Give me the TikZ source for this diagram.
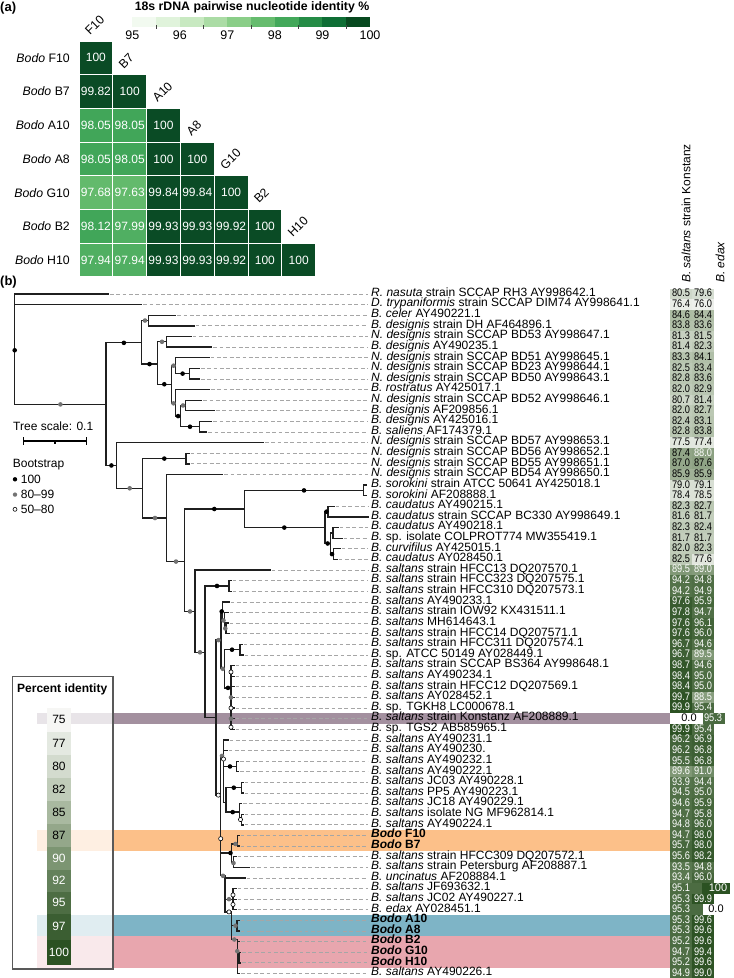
\documentclass[tikz,border=0pt]{standalone}
\usepackage{fontspec}
\setmainfont{Liberation Sans}
\usetikzlibrary{calc}

\newcommand{\fs}[1]{\fontsize{#1}{#1}\selectfont}

% heatmap bins (95 -> 100, steps of 0.5)
\definecolor{gb0}{HTML}{F2FAF0}
\definecolor{gb1}{HTML}{E0F3DB}
\definecolor{gb2}{HTML}{C8E9C1}
\definecolor{gb3}{HTML}{ABDCA5}
\definecolor{gb4}{HTML}{8ACE88}
\definecolor{gb5}{HTML}{66BC6E}
\definecolor{gb6}{HTML}{43A85A}
\definecolor{gb7}{HTML}{258C46}
\definecolor{gb8}{HTML}{0E6E35}
\definecolor{gb9}{HTML}{07491F}
\definecolor{hmA}{HTML}{63BA6C}
\definecolor{hmB}{HTML}{50AF62}
\definecolor{hmC}{HTML}{41A659}
\definecolor{hmD}{HTML}{0A4B25}
% percent identity scale
\definecolor{pid75}{HTML}{F6F6F4}
\definecolor{pid77}{HTML}{E4E9E1}
\definecolor{pid80}{HTML}{D3DBCE}
\definecolor{pid82}{HTML}{C0CCB9}
\definecolor{pid85}{HTML}{A9B9A0}
\definecolor{pid87}{HTML}{94A78A}
\definecolor{pid90}{HTML}{7C9572}
\definecolor{pid92}{HTML}{64815B}
\definecolor{pid95}{HTML}{4D6D43}
\definecolor{pid97}{HTML}{3B5E32}
\definecolor{pid100}{HTML}{2B5122}
% clade bands
\definecolor{bandKon}{HTML}{A3909F}
\definecolor{bandOr}{HTML}{FCC089}
\definecolor{bandBl}{HTML}{7EB4C6}
\definecolor{bandPk}{HTML}{E8A6AE}

% interpolate the identity colour -> pidc, text colour -> pidt
\newcommand{\pidseg}[3]{%
  \pgfmathtruncatemacro\pidpct{100*(#1-#2)/(#3-#2)}%
  \colorlet{pidc}{pid#3!\pidpct!pid#2}}
\newcommand{\pidset}[1]{%
  \ifdim#1pt<77pt \pidseg{#1}{75}{77}\else
  \ifdim#1pt<80pt \pidseg{#1}{77}{80}\else
  \ifdim#1pt<82pt \pidseg{#1}{80}{82}\else
  \ifdim#1pt<85pt \pidseg{#1}{82}{85}\else
  \ifdim#1pt<87pt \pidseg{#1}{85}{87}\else
  \ifdim#1pt<90pt \pidseg{#1}{87}{90}\else
  \ifdim#1pt<92pt \pidseg{#1}{90}{92}\else
  \ifdim#1pt<95pt \pidseg{#1}{92}{95}\else
  \ifdim#1pt<97pt \pidseg{#1}{95}{97}\else
  \pidseg{#1}{97}{100}\fi\fi\fi\fi\fi\fi\fi\fi\fi
  \ifdim#1pt>87.8pt \colorlet{pidt}{white}\else\colorlet{pidt}{black}\fi}

\tikzset{
  br/.style={line width=1.3pt, draw=black!88, line cap=rect},
  tipdash/.style={draw=black!35, line width=0.8pt, dash pattern=on 3.8pt off 2.6pt},
  bsfull/.style={fill=black},
  bsmid/.style={fill=black!55},
  bslow/.style={fill=white, draw=black, line width=0.6pt},
  leaflab/.style={anchor=base west, inner sep=0pt, font=\fs{12}},
  pidnum/.style={anchor=base, inner sep=0pt, font=\fs{11}, yshift=-2.9pt},
  cellnum/.style={text=white, inner sep=0pt, font=\fs{12}},
  lbl/.style={inner sep=0pt, font=\fs{12}},
}

\begin{document}
\begin{tikzpicture}[x=1pt, y=-1pt]
\useasboundingbox (0,0) rectangle (734,978);

%% ---------------- (a) pairwise identity ----------------
\node[lbl, font=\fs{13}\bfseries, anchor=west] (tagA) at (0,8) {(a)};
\node[lbl, font=\fs{12.3}\bfseries] (cbtitle) at (252,7) {18s rDNA pairwise nucleotide identity \%};
\foreach \k/\cc in {0/gb0,1/gb1,2/gb2,3/gb3,4/gb4,5/gb5,6/gb6,7/gb7,8/gb8,9/gb9}
  \fill[\cc] ({132.3+23.77*\k},17) rectangle ++(23.77,10);
\foreach \k in {0,...,4}
  \draw[black!75, line width=0.8pt] ({156.07+47.54*\k},25) -- ++(0,4);
\foreach \k/\t in {0/95,1/96,2/97,3/98,4/99,5/100}
  \node[lbl, font=\fs{12.5}] (cb\t) at ({132.3+47.54*\k},35.5) {\t};

\foreach \hr/\hc/\hv/\cc in {0/0/100/hmD,
    1/0/99.82/hmD, 1/1/100/hmD,
    2/0/98.05/hmC, 2/1/98.05/hmC, 2/2/100/hmD,
    3/0/98.05/hmC, 3/1/98.05/hmC, 3/2/100/hmD, 3/3/100/hmD,
    4/0/97.68/hmA, 4/1/97.63/hmA, 4/2/99.84/hmD, 4/3/99.84/hmD, 4/4/100/hmD,
    5/0/98.12/hmC, 5/1/97.99/hmB, 5/2/99.93/hmD, 5/3/99.93/hmD, 5/4/99.92/hmD, 5/5/100/hmD,
    6/0/97.94/hmB, 6/1/97.94/hmB, 6/2/99.93/hmD, 6/3/99.93/hmD, 6/4/99.92/hmD, 6/5/100/hmD, 6/6/100/hmD}{
  \fill[\cc] ({79.5+33.8*\hc},{41.5+33.7*\hr}) rectangle ++(32.8,32.7);
  \node[cellnum] (hm\hr\hc) at ({95.9+33.8*\hc},{57.85+33.7*\hr}) {\hv};
}
\foreach \hr/\n in {0/F10,1/B7,2/A10,3/A8,4/G10,5/B2,6/H10}{
  \node[lbl, font=\fs{12.3}, anchor=east] (row\n) at (70,{57.9+33.7*\hr}) {\textit{Bodo} \n};
  \node[lbl, font=\fs{12.3}, anchor=west, rotate=45] (col\n) at ({87+33.8*\hr},{32.5+33.7*\hr}) {\n};
}

%% ---------------- (b) tree ----------------
\node[lbl, font=\fs{13}\bfseries, anchor=west] (tagB) at (0,282) {(b)};

\begin{scope}[yshift=-294pt, y=-10.617pt]
  % highlighted clades
  \fill[bandKon] (37,39.5) rectangle (670,40.5);
  \fill[bandOr] (37,50.5) rectangle (670,52.5);
  \fill[bandBl] (37,58.5) rectangle (670,60.5);
  \fill[bandPk] (37,60.5) rectangle (670,63.5);

  % leaf labels with guide dashes
  \foreach \i/\tip/\lab in {
    0/108.3/{\textit{R. nasuta} strain SCCAP RH3 AY998642.1},
    1/141.7/{\textit{D. trypaniformis} strain SCCAP DIM74 AY998641.1},
    2/175.7/{\textit{B. celer} AY490221.1},
    3/194/{\textit{B. designis} strain DH AF464896.1},
    4/191/{\textit{N. designis} strain SCCAP BD53 AY998647.1},
    5/211.7/{\textit{B. designis} AY490235.1},
    6/209/{\textit{N. designis} strain SCCAP BD51 AY998645.1},
    7/199.3/{\textit{N. designis} strain SCCAP BD23 AY998644.1},
    8/199.3/{\textit{N. designis} strain SCCAP BD50 AY998643.1},
    9/209.3/{\textit{B. rostratus} AY425017.1},
    10/201.7/{\textit{N. designis} strain SCCAP BD52 AY998646.1},
    11/214.3/{\textit{B. designis} AF209856.1},
    12/211.7/{\textit{B. designis} AY425016.1},
    13/206.7/{\textit{B. saliens} AF174379.1},
    14/263.3/{\textit{N. designis} strain SCCAP BD57 AY998653.1},
    15/189/{\textit{N. designis} strain SCCAP BD56 AY998652.1},
    16/189/{\textit{N. designis} strain SCCAP BD55 AY998651.1},
    17/222.7/{\textit{N. designis} strain SCCAP BD54 AY998650.1},
    18/366/{\textit{B. sorokini} strain ATCC 50641 AY425018.1},
    19/366/{\textit{B. sorokini} AF208888.1},
    20/334/{\textit{B. caudatus} AY490215.1},
    21/368/{\textit{B. caudatus} strain SCCAP BC330 AY998649.1},
    22/338/{\textit{B. caudatus} AY490218.1},
    23/342/{\textit{B.} sp. isolate COLPROT774 MW355419.1},
    24/340/{\textit{B. curvifilus} AY425015.1},
    25/337/{\textit{B. caudatus} AY028450.1},
    26/270/{\textit{B. saltans} strain HFCC13 DQ207570.1},
    27/231/{\textit{B. saltans} strain HFCC323 DQ207575.1},
    28/231/{\textit{B. saltans} strain HFCC310 DQ207573.1},
    29/229/{\textit{B. saltans} AY490233.1},
    30/228/{\textit{B. saltans} strain IOW92 KX431511.1},
    31/228/{\textit{B. saltans} MH614643.1},
    32/229/{\textit{B. saltans} strain HFCC14 DQ207571.1},
    33/242/{\textit{B. saltans} strain HFCC311 DQ207574.1},
    34/243/{\textit{B.} sp. ATCC 50149 AY028449.1},
    35/234/{\textit{B. saltans} strain SCCAP BS364 AY998648.1},
    36/234/{\textit{B. saltans} AY490234.1},
    37/234/{\textit{B. saltans} strain HFCC12 DQ207569.1},
    38/234/{\textit{B. saltans} AY028452.1},
    39/234/{\textit{B.} sp. TGKH8 LC000678.1},
    40/234/{\textit{B. saltans} strain Konstanz AF208889.1},
    41/234/{\textit{B.} sp. TGS2 AB585965.1},
    42/228/{\textit{B. saltans} AY490231.1},
    43/227/{\textit{B. saltans} AY490230.},
    44/238.5/{\textit{B. saltans} AY490232.1},
    45/238.5/{\textit{B. saltans} AY490222.1},
    46/243/{\textit{B. saltans} JC03 AY490228.1},
    47/243/{\textit{B. saltans} PP5 AY490223.1},
    48/241.5/{\textit{B. saltans} JC18 AY490229.1},
    49/243/{\textit{B. saltans} isolate NG MF962814.1},
    50/243/{\textit{B. saltans} AY490224.1},
    51/239/{\textbf{\textit{Bodo} F10}},
    52/239/{\textbf{\textit{Bodo} B7}},
    53/236/{\textit{B. saltans} strain HFCC309 DQ207572.1},
    54/249.3/{\textit{B. saltans} strain Petersburg AF208887.1},
    55/245/{\textit{B. uncinatus} AF208884.1},
    56/236/{\textit{B. saltans} JF693632.1},
    57/236/{\textit{B. saltans} JC02 AY490227.1},
    58/236/{\textit{B. edax} AY028451.1},
    59/239/{\textbf{\textit{Bodo} A10}},
    60/239/{\textbf{\textit{Bodo} A8}},
    61/239.5/{\textbf{\textit{Bodo} B2}},
    62/240.5/{\textbf{\textit{Bodo} G10}},
    63/240.5/{\textbf{\textit{Bodo} H10}},
    64/239.5/{\textit{B. saltans} AY490226.1}}{
    \ifdim\tip pt<360pt \draw[tipdash] ({\tip+1.5},\i) -- (368,\i); \fi
    \node[leaflab, yshift=-2.3pt] (leaf\i) at (371,\i) {\lab};
  }

  % identity to B. saltans Konstanz / B. edax
  \foreach \i/\va/\vb in {0/80.5/79.6, 1/76.4/76.0, 2/84.6/84.4, 3/83.8/83.6,
    4/81.3/81.5, 5/81.4/82.3, 6/83.3/84.1, 7/82.5/83.4, 8/82.8/83.6, 9/82.0/82.9,
    10/80.7/81.4, 11/82.0/82.7, 12/82.4/83.1, 13/82.8/83.8, 14/77.5/77.4,
    15/87.4/88.0, 16/87.0/87.6, 17/85.9/85.9, 18/79.0/79.1, 19/78.4/78.5,
    20/82.3/82.7, 21/81.6/81.7, 22/82.3/82.4, 23/81.7/81.7, 24/82.0/82.3,
    25/82.5/77.6, 26/89.5/89.0, 27/94.2/94.8, 28/94.2/94.9, 29/97.6/95.9,
    30/97.8/94.7, 31/97.6/96.1, 32/97.6/96.0, 33/96.7/94.6, 34/96.7/89.5,
    35/98.7/94.6, 36/98.4/95.0, 37/98.4/95.0, 38/99.7/88.5, 39/99.9/95.4,
    41/99.9/95.4, 42/96.2/96.9, 43/96.2/96.8, 44/95.5/96.8, 45/89.6/91.0,
    46/93.9/94.4, 47/94.5/95.0, 48/94.6/95.9, 49/94.7/95.8, 50/94.8/96.0,
    51/94.7/98.0, 52/95.7/98.0, 53/95.6/98.2, 54/93.5/94.8, 55/93.4/96.0,
    57/95.3/99.9, 59/95.3/99.6, 60/95.3/99.6, 61/95.2/99.6, 62/94.7/99.4,
    63/95.2/99.6, 64/94.9/99.0}{
    \pidset{\va}
    \fill[pidc] (670,{\i-0.5}) rectangle (692,{\i+0.5});
    \node[pidnum, text=pidt, xscale=0.84] (kon\i) at (681,\i) {\va};
    \pidset{\vb}
    \fill[pidc] (692,{\i-0.5}) rectangle (714,{\i+0.5});
    \node[pidnum, text=pidt, xscale=0.84] (edx\i) at (703,\i) {\vb};
  }
  % rows with a self comparison or a full match
  \fill[white] (670,39.5) rectangle (703,40.5);
  \node[pidnum] (kon40) at (689,40) {0.0};
  \pidset{95.3}
  \fill[pidc] (703,39.5) rectangle (725,40.5);
  \node[pidnum, text=pidt, xscale=0.84] (edx40) at (713,40) {95.3};
  \pidset{95.1}
  \fill[pidc] (670,55.5) rectangle (702,56.5);
  \node[pidnum, text=pidt, xscale=0.84] (kon56) at (681,56) {95.1};
  \pidset{100}
  \fill[pidc] (702,55.5) rectangle (730,56.5);
  \node[pidnum, text=pidt] (edx56) at (718,56) {100};
  \pidset{95.3}
  \fill[pidc] (670,57.5) rectangle (703,58.5);
  \node[pidnum, text=pidt, xscale=0.84] (kon58) at (681,58) {95.3};
  \fill[white] (703,57.5) rectangle (728,58.5);
  \node[pidnum] (edx58) at (716,58) {0.0};
\end{scope}

% column headings
\node[lbl, rotate=90, anchor=west] (hdKon) at (686,283) {\textit{B. saltans} strain Konstanz};
\node[lbl, rotate=90, anchor=west] (hdEdax) at (720,283) {\textit{B. edax}};

% percent identity key (sits over the bands)
\path[fill=white, fill opacity=0.76, draw=black!65, line width=1.2pt] (12.7,676.7) rectangle (113,969);
\node[lbl, font=\fs{12}\bfseries, anchor=west] (pidtitle) at (17,689) {Percent identity};
\foreach \v/\ya/\yb in {75/707.5/731.7, 77/731.7/755, 80/755/778, 82/778/801, 85/801/823.5,
    87/823.5/846.5, 90/846.5/869.5, 92/869.5/891.5, 95/891.5/913.5, 97/913.5/939.5, 100/939.5/964.5}{
  \fill[pid\v] (47,\ya) rectangle (71,\yb);
  \ifnum\v<90 \def\keytxt{black}\else\def\keytxt{white}\fi
  \node[lbl, text=\keytxt] (key\v) at (59,{(\ya+\yb)/2}) {\v};
}

% tree scale and bootstrap key
\node[lbl, anchor=west] (scalelab) at (13,426.7) {Tree scale: 0.1};
\draw[line width=1.1pt] (23.3,437) -- (23.3,445) (23.3,441) -- (86.7,441) (86.7,437) -- (86.7,445) (55,441) -- (55,443.5);
\node[lbl, anchor=west] (bslab) at (12.7,465) {Bootstrap};
\path[bsfull] (15,479.3) circle[radius=2.2pt];
\path[bsmid] (15,494.6) circle[radius=2.2pt];
\path[bslow] (15,509.3) circle[radius=2pt];
\node[lbl, anchor=west] (bs100) at (20.7,479.3) {100};
\node[lbl, anchor=west] (bs80) at (20.7,494.6) {80--99};
\node[lbl, anchor=west] (bs50) at (20.7,509.3) {50--80};

\begin{scope}[yshift=-294pt, y=-10.617pt]
  % root and outgroups
  \draw[br] (108.3,0) -| (14.7,10.4) -- (106,10.4);
  \draw[br] (14.7,1) -- (141.7,1);
  % designis group
  \draw[br] (141.7,4.6) -| (106,16.15) -- (116.7,16.15);
  \draw[br] (148.3,2.5) -| (141.7,6.6) -- (157.3,6.6);
  \draw[br] (175.7,2) -| (148.3,3) -- (194,3);
  \draw[br] (166.7,4.5) -| (157.3,8.5) -- (171.3,8.5);
  \draw[br] (191,4) -| (166.7,5) -- (211.7,5);
  \draw[br] (175.7,6.75) -| (171.3,10.3) -- (175.7,10.3);
  \draw[br] (209,6) -| (175.7,7.5) -- (189.5,7.5);
  \draw[br] (199.3,7) -| (189.5,8) -- (199.3,8);
  \draw[br] (209.3,9) -| (175.7,11.5) -- (180.5,11.5);
  \draw[br] (185.5,10.5) -| (180.5,12.5) -- (199.3,12.5);
  \draw[br] (201.7,10) -| (185.5,11) -- (214.3,11);
  \draw[br] (211.7,12) -| (199.3,13) -- (206.7,13);
  % BD5x, sorokini, caudatus
  \draw[br] (263.3,14) -| (116.7,18.3) -- (142.7,18.3);
  \draw[br] (186,15.5) -| (142.7,21.1) -- (166.7,21.1);
  \draw[br] (189,15) -| (186,16) -- (189,16);
  \draw[br] (222.7,17) -| (166.7,25.2) -- (184.3,25.2);
  \draw[br] (244.3,20.25) -| (184.3,29.9) -- (195,29.9);
  \draw[br] (363.3,18.5) -| (244.3,22) -- (325,22);
  \draw[br] (366,18) -| (363.3,19) -- (366,19);
  \draw[br] (328,20.5) -| (325,23.5) -- (330.5,23.5);
  \draw[br] (334,20) -| (328,21) -- (368,21);
  \draw[br] (333,22.5) -| (330.5,24.5) -- (333.5,24.5);
  \draw[br] (338,22) -| (333,23) -- (342,23);
  \draw[br] (340,24) -| (333.5,25) -- (337,25);
  % saltans group
  \draw[br] (270,26) -| (195,33.75) -- (205,33.75);
  \draw[br] (229,27.5) -| (205,39.9) -- (216,39.9);
  \draw[br] (231,27) -| (229,28) -- (231,28);
  \draw[br] (221,32.6) -| (216,47.2) -- (220.7,47.2);
  \draw[br] (222.5,29.9) -| (221,35.3) -- (224.5,35.3);
  \draw[br] (229,29) -| (222.5,30.75) -- (224.5,30.75);
  \draw[br] (228,30) -| (224.5,31.5) -- (226,31.5);
  \draw[br] (228,31) -| (226,32) -- (229,32);
  \draw[br] (240,33.5) -| (224.5,37.1) -- (231,37.1);
  \draw[br] (242,33) -| (240,34) -- (243,34);
  \draw[br] (231,35) -- (231,41);
  \foreach \r in {35,...,41} \draw[br] (231,\r) -- (234,\r);
  \draw[br] (223.5,43.5) -| (220.7,54.8) -- (225,54.8);
  \draw[br] (228,42) -| (223.5,47.9) -- (226,47.9);
  \draw[br] (223.5,43) -- (227,43) (223.5,44.5) -- (236.7,44.5);
  \draw[br] (238.5,44) -| (236.7,45) -- (238.5,45);
  \draw[br] (241.7,46.5) -| (226,48.8) -- (239.5,48.8);
  \draw[br] (243,46) -| (241.7,47) -- (243,47);
  \draw[br] (241.5,48) -| (239.5,49.5) -- (241.5,49.5);
  \draw[br] (243,49) -| (241.5,50) -- (243,50);
  \draw[br] (220.7,52.65) -- (231.5,52.65);
  \draw[br] (237.3,51.8) -| (231.5,53.5) -- (233.5,53.5);
  \draw[br] (239,51) -| (237.3,52) -- (239,52);
  \draw[br] (236,53) -| (233.5,54) -- (249.3,54);
  \draw[br] (225,54.8) -- (225,58.2) -- (231.5,58.2) (225,55) -- (245,55) (225,57) -- (233,57);
  \draw[br] (236,56) -| (233,58) -- (236,58) (233,57) -- (236,57);
  \draw[br] (231.5,58.2) -- (231.5,60.8) -- (237.3,60.8) (231.5,59.5) -- (237,59.5);
  \draw[br] (239,59) -| (237,60) -- (239,60);
  \draw[br] (237.3,60.8) -- (237.3,64) -- (239.5,64) (237.3,61) -- (239.5,61) (237.3,62.5) -- (239,62.5);
  \draw[br] (240.5,62) -| (239,63) -- (240.5,63);

  % bootstrap support
  \foreach \x/\y in {14.7/5.3, 123.9/4.6, 149.5/6.6, 164.3/8.5, 182.6/7.5, 178.1/11.5, 190/12.5,
      111.4/16.15, 164.3/15.5, 214.3/20.25, 304/18.5, 284.3/22, 326.5/20.5, 327.7/23.5, 332/24.5,
      217/27.5, 221.7/29.9, 232/33.5, 228/37.1, 230/44.5, 233.8/46.5, 232.7/48.8, 230.5/52.65}
    \path[bsfull] (\x,\y) circle[radius=2.3pt];
  \foreach \x/\y in {60.4/10.4, 145/2.5, 162/4.5, 173.5/6.75, 173.5/10.3, 183/10.5, 129.7/18.3,
      155/21.1, 176/25.2, 190/29.9, 200/33.75, 218.5/32.6, 223.5/30.75, 225.3/31.5, 222.7/35.3,
      231/38, 231/40, 222/43.5, 235.5/51.8, 233.5/53.6, 223/54.8, 229/57, 235.5/59.5, 234.3/60.8, 237.3/61.9}
    \path[bsmid] (\x,\y) circle[radius=2.3pt];
  \foreach \x/\y in {231/35.6, 231/39, 231/40.8, 218.3/47.2, 223.5/43.8, 240.5/49.5, 220.7/51.3,
      233/56.6, 233/57.5, 229/58.2}
    \path[bslow] (\x,\y) circle[radius=2.1pt];
\end{scope}
\end{tikzpicture}
\end{document}
